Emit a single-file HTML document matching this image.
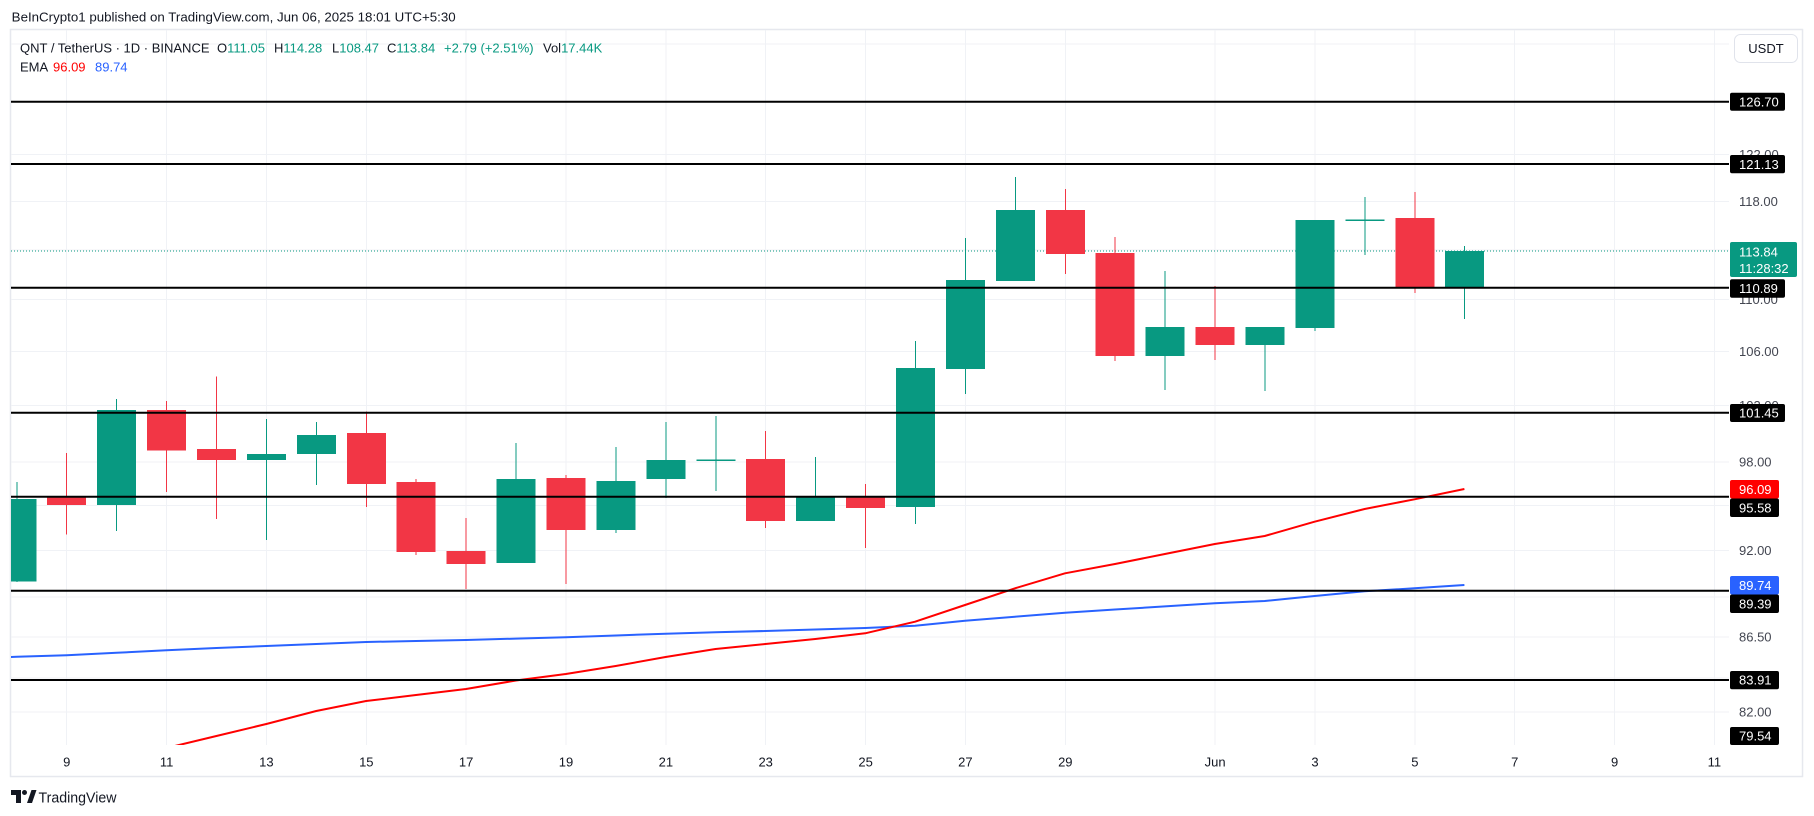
<!DOCTYPE html>
<html>
<head>
<meta charset="utf-8">
<style>
  html,body{margin:0;padding:0;background:#fff;}
  body{width:1814px;height:816px;overflow:hidden;}
  svg{display:block;}
  text{font-family:"Liberation Sans",Arial,sans-serif;}
</style>
</head>
<body>
<svg width="1814" height="816" viewBox="0 0 1814 816" xmlns="http://www.w3.org/2000/svg">
  <defs>
    <clipPath id="pane"><rect x="11" y="30" width="1718" height="715"/></clipPath>
  </defs>
  <rect x="0" y="0" width="1814" height="816" fill="#fff"/>

  <!-- header -->
  <text x="11.7" y="21.7" font-size="13" fill="#131722" textLength="444" lengthAdjust="spacingAndGlyphs">BeInCrypto1 published on TradingView.com, Jun 06, 2025 18:01 UTC+5:30</text>

  <!-- frame -->
  <rect x="10.5" y="29.5" width="1792" height="747" fill="none" stroke="#e6e8ee" stroke-width="1.5"/>

  <!-- grid -->
  <g stroke="#f0f2f6" stroke-width="1" shape-rendering="crispEdges">
    <line x1="11" x2="1729" y1="44" y2="44"/>
    <line x1="11" x2="1729" y1="154.5" y2="154.5"/>
    <line x1="11" x2="1729" y1="201.5" y2="201.5"/>
    <line x1="11" x2="1729" y1="250" y2="250"/>
    <line x1="11" x2="1729" y1="299.5" y2="299.5"/>
    <line x1="11" x2="1729" y1="351.5" y2="351.5"/>
    <line x1="11" x2="1729" y1="405.5" y2="405.5"/>
    <line x1="11" x2="1729" y1="462" y2="462"/>
    <line x1="11" x2="1729" y1="505.5" y2="505.5"/>
    <line x1="11" x2="1729" y1="550.5" y2="550.5"/>
    <line x1="11" x2="1729" y1="597" y2="597"/>
    <line x1="11" x2="1729" y1="637" y2="637"/>
    <line x1="11" x2="1729" y1="678" y2="678"/>
    <line x1="11" x2="1729" y1="712" y2="712"/>
    <line x1="66.7" x2="66.7" y1="30" y2="745"/>
    <line x1="166.6" x2="166.6" y1="30" y2="745"/>
    <line x1="266.4" x2="266.4" y1="30" y2="745"/>
    <line x1="366.3" x2="366.3" y1="30" y2="745"/>
    <line x1="466.1" x2="466.1" y1="30" y2="745"/>
    <line x1="566" x2="566" y1="30" y2="745"/>
    <line x1="665.9" x2="665.9" y1="30" y2="745"/>
    <line x1="765.7" x2="765.7" y1="30" y2="745"/>
    <line x1="865.6" x2="865.6" y1="30" y2="745"/>
    <line x1="965.4" x2="965.4" y1="30" y2="745"/>
    <line x1="1065.3" x2="1065.3" y1="30" y2="745"/>
    <line x1="1215.1" x2="1215.1" y1="30" y2="745"/>
    <line x1="1315" x2="1315" y1="30" y2="745"/>
    <line x1="1414.9" x2="1414.9" y1="30" y2="745"/>
    <line x1="1514.7" x2="1514.7" y1="30" y2="745"/>
    <line x1="1614.6" x2="1614.6" y1="30" y2="745"/>
    <line x1="1714.4" x2="1714.4" y1="30" y2="745"/>
  </g>

  <g clip-path="url(#pane)">
    <!-- last price dotted line -->
    <line x1="11" x2="1729" y1="251" y2="251" stroke="#089981" stroke-width="1" stroke-dasharray="1 2"/>

    <!-- EMA lines -->
    <polyline fill="none" stroke="#2962ff" stroke-width="2" stroke-linejoin="round"
      points="5,657.2 16.8,656.8 66.7,655.3 116.6,652.8 166.5,650.3 216.4,648 266.3,646 316.2,644 366.1,642 416,641 466,640 515.9,638.6 565.8,637.3 615.7,635.5 665.6,633.7 715.5,632.3 765.4,631 815.3,629.5 865.2,628 915.1,625.7 965,620.7 1015,616.7 1065,612.7 1115,609.5 1164.9,606.4 1214.8,603.3 1264.7,601 1314.6,596 1364.6,591.3 1414.5,588.3 1464.4,585"/>
    <polyline fill="none" stroke="#ff0000" stroke-width="2" stroke-linejoin="round"
      points="116.6,760 166.5,748 216.4,736 266.3,724 316.2,711 366.1,701 416,695 466,689 515.9,680.5 565.8,674 615.7,666 665.6,657 715.5,649 765.4,644 815.3,639 865.2,633.3 915.1,621.7 965,605 1015,588.3 1065,573.3 1115,564 1164.9,554 1214.8,544 1264.7,536 1314.6,521.7 1364.6,509 1414.5,499.3 1464.4,489"/>

    <!-- candles: green -->
    <g fill="#089981" shape-rendering="crispEdges">
      <rect x="16.3" y="482" width="1" height="100"/><rect x="-2.7" y="499" width="39" height="82.7"/>
      <rect x="116.1" y="399" width="1" height="132"/><rect x="97.1" y="410" width="39" height="95"/>
      <rect x="265.9" y="419" width="1" height="121"/><rect x="246.9" y="454" width="39" height="6"/>
      <rect x="315.8" y="422" width="1" height="63"/><rect x="296.9" y="435" width="39" height="19"/>
      <rect x="515.6" y="443" width="1" height="120"/><rect x="496.6" y="479" width="39" height="84"/>
      <rect x="615.4" y="447" width="1" height="86"/><rect x="596.4" y="481" width="39" height="49"/>
      <rect x="665.4" y="422" width="1" height="76"/><rect x="646.4" y="460" width="39" height="19"/>
      <rect x="715.3" y="416" width="1" height="75"/><rect x="696.3" y="459.5" width="39" height="1.5"/>
      <rect x="815.2" y="457" width="1" height="64"/><rect x="796.2" y="496" width="39" height="25"/>
      <rect x="915" y="341" width="1" height="183"/><rect x="896" y="368" width="39" height="139"/>
      <rect x="964.9" y="238" width="1" height="156"/><rect x="945.9" y="280" width="39" height="89"/>
      <rect x="1014.9" y="177" width="1" height="104"/><rect x="995.9" y="210" width="39" height="71"/>
      <rect x="1164.7" y="271" width="1" height="119"/><rect x="1145.7" y="327" width="39" height="29"/>
      <rect x="1264.5" y="327" width="1" height="64"/><rect x="1245.5" y="327" width="39" height="18"/>
      <rect x="1314.5" y="220" width="1" height="111"/><rect x="1295.5" y="220" width="39" height="108"/>
      <rect x="1364.4" y="197" width="1" height="58"/><rect x="1345.4" y="219.5" width="39" height="1.5"/>
      <rect x="1464.2" y="246" width="1" height="73"/><rect x="1445.2" y="251" width="39" height="36"/>
    </g>
    <!-- candles: red -->
    <g fill="#f23645" shape-rendering="crispEdges">
      <rect x="66.2" y="453" width="1" height="81.7"/><rect x="47.2" y="497.7" width="39" height="7.3"/>
      <rect x="166.1" y="401" width="1" height="91"/><rect x="147.1" y="410" width="39" height="40.7"/>
      <rect x="216" y="376.7" width="1" height="142.3"/><rect x="197" y="449" width="39" height="11"/>
      <rect x="365.8" y="411.7" width="1" height="95.3"/><rect x="346.8" y="433" width="39" height="51"/>
      <rect x="415.7" y="479" width="1" height="76"/><rect x="396.7" y="482" width="39" height="70"/>
      <rect x="465.6" y="518" width="1" height="71"/><rect x="446.6" y="551" width="39" height="13"/>
      <rect x="565.5" y="475" width="1" height="109"/><rect x="546.5" y="478" width="39" height="52"/>
      <rect x="765.2" y="431" width="1" height="97"/><rect x="746.2" y="459" width="39" height="62"/>
      <rect x="865.1" y="484" width="1" height="64"/><rect x="846.1" y="496" width="39" height="12"/>
      <rect x="1064.8" y="189" width="1" height="85"/><rect x="1045.8" y="210" width="39" height="44"/>
      <rect x="1114.7" y="237" width="1" height="124"/><rect x="1095.7" y="253" width="39" height="103"/>
      <rect x="1214.6" y="286" width="1" height="74"/><rect x="1195.6" y="327" width="39" height="18"/>
      <rect x="1414.3" y="192" width="1" height="101"/><rect x="1395.3" y="218" width="39" height="69"/>
    </g>

    <!-- horizontal drawings -->
    <g stroke="#000" stroke-width="2">
      <line x1="11" x2="1729" y1="101.7" y2="101.7"/>
      <line x1="11" x2="1729" y1="164" y2="164"/>
      <line x1="11" x2="1729" y1="287.7" y2="287.7"/>
      <line x1="11" x2="1729" y1="412.7" y2="412.7"/>
      <line x1="11" x2="1729" y1="496.7" y2="496.7"/>
      <line x1="11" x2="1729" y1="590.7" y2="590.7"/>
      <line x1="11" x2="1729" y1="680" y2="680"/>
    </g>
  </g>

  <!-- legend -->
  <text y="52.4" font-size="13" fill="#131722">
    <tspan x="20">QNT / TetherUS · 1D · BINANCE</tspan>
    <tspan x="217">O</tspan><tspan fill="#089981">111.05</tspan>
    <tspan x="274">H</tspan><tspan fill="#089981">114.28</tspan>
    <tspan x="332">L</tspan><tspan fill="#089981">108.47</tspan>
    <tspan x="387">C</tspan><tspan fill="#089981">113.84</tspan>
    <tspan x="444" fill="#089981">+2.79 (+2.51%)</tspan>
    <tspan x="543">Vol</tspan><tspan fill="#089981">17.44K</tspan>
  </text>
  <text y="71.4" font-size="13" fill="#131722">
    <tspan x="20">EMA</tspan>
    <tspan x="53" fill="#ff0000">96.09</tspan>
    <tspan x="95" fill="#2962ff">89.74</tspan>
  </text>

  <!-- USDT button -->
  <rect x="1734.5" y="34.5" width="63" height="28" rx="6" fill="#fff" stroke="#e0e3eb"/>
  <text x="1766" y="53" font-size="13" fill="#131722" text-anchor="middle">USDT</text>

  <!-- grey scale labels -->
  <g font-size="13" fill="#434651">
    <text x="1739" y="159.1">122.00</text>
    <text x="1739" y="206.1">118.00</text>
    <text x="1739" y="304.1">110.00</text>
    <text x="1739" y="356.1">106.00</text>
    <text x="1739" y="410.1">102.00</text>
    <text x="1739" y="466.6">98.00</text>
    <text x="1739" y="555.1">92.00</text>
    <text x="1739" y="641.6">86.50</text>
    <text x="1739" y="716.6">82.00</text>
  </g>

  <!-- price labels -->
  <g font-size="13" fill="#fff">
    <rect x="1730" y="92.7" width="55" height="18" rx="2" fill="#000"/>
    <text x="1739" y="106.3">126.70</text>
    <rect x="1730" y="155" width="55" height="18.3" rx="2" fill="#000"/>
    <text x="1739" y="168.8">121.13</text>
    <rect x="1730" y="242" width="67" height="35" rx="2" fill="#089981"/>
    <text x="1739" y="256.6">113.84</text>
    <text x="1739" y="273.2">11:28:32</text>
    <rect x="1730" y="279.3" width="55" height="18.4" rx="2" fill="#000"/>
    <text x="1739" y="293.1">110.89</text>
    <rect x="1730" y="404" width="55" height="18" rx="2" fill="#000"/>
    <text x="1739" y="417.6">101.45</text>
    <rect x="1730" y="480" width="49" height="18.5" rx="2" fill="#ff0000"/>
    <text x="1739" y="493.8">96.09</text>
    <rect x="1730" y="498.5" width="49" height="18.5" rx="2" fill="#000"/>
    <text x="1739" y="512.3">95.58</text>
    <rect x="1730" y="576" width="49" height="18.5" rx="2" fill="#2962ff"/>
    <text x="1739" y="589.8">89.74</text>
    <rect x="1730" y="594.5" width="49" height="18.5" rx="2" fill="#000"/>
    <text x="1739" y="608.3">89.39</text>
    <rect x="1730" y="671" width="49" height="18.3" rx="2" fill="#000"/>
    <text x="1739" y="684.7">83.91</text>
    <rect x="1730" y="727" width="49" height="18" rx="2" fill="#000"/>
    <text x="1739" y="740.6">79.54</text>
  </g>

  <!-- time axis labels -->
  <g font-size="13" fill="#131722" text-anchor="middle">
    <text x="66.7" y="766.6">9</text>
    <text x="166.6" y="766.6">11</text>
    <text x="266.4" y="766.6">13</text>
    <text x="366.3" y="766.6">15</text>
    <text x="466.1" y="766.6">17</text>
    <text x="566" y="766.6">19</text>
    <text x="665.9" y="766.6">21</text>
    <text x="765.7" y="766.6">23</text>
    <text x="865.6" y="766.6">25</text>
    <text x="965.4" y="766.6">27</text>
    <text x="1065.3" y="766.6">29</text>
    <text x="1215.1" y="766.6">Jun</text>
    <text x="1315" y="766.6">3</text>
    <text x="1414.9" y="766.6">5</text>
    <text x="1514.7" y="766.6">7</text>
    <text x="1614.6" y="766.6">9</text>
    <text x="1714.4" y="766.6">11</text>
  </g>

  <!-- TradingView logo -->
  <g fill="#131722">
    <path d="M11,790 H21 V803 H16 V795 H11 Z"/>
    <circle cx="24.5" cy="792.5" r="2.5"/>
    <path d="M27,803 L31.5,790 H36.5 L32,803 Z"/>
  </g>
  <text x="38.5" y="802.3" font-size="15" fill="#131722" textLength="78" lengthAdjust="spacingAndGlyphs">TradingView</text>
</svg>
</body>
</html>
